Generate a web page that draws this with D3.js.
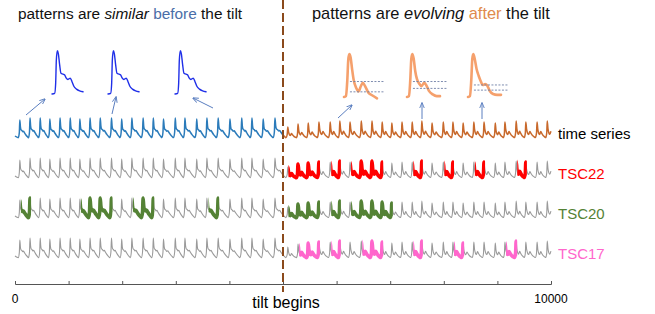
<!DOCTYPE html>
<html>
<head>
<meta charset="utf-8">
<script src="https://cdn.jsdelivr.net/npm/d3@7"></script>
<style>
  body { margin: 0; background: #fff; }
  text { font-family: "Liberation Sans", Arial, sans-serif; }
</style>
</head>
<body>
<div id="chart"></div>
<script>
const FRAME_WIDTH = 655;
const FRAME_HEIGHT = 314;

// ---- data ----
const TILT = 5000;
const X_DOMAIN = [0, 10000];

// peak times of each cycle
const PEAKS_BEFORE = [90, 280, 470, 650, 840, 1030, 1210, 1400, 1590, 1800, 1990, 2180, 2390,
                      2580, 2770, 2990, 3170, 3390, 3580, 3790, 4010, 4230, 4420, 4630, 4850];
const PEAKS_AFTER = [5090, 5280, 5470, 5670, 5880, 6060, 6250, 6460, 6660, 6850, 7030, 7220, 7410,
                     7590, 7780, 7990, 8170, 8360, 8560, 8750, 8960, 9140, 9350, 9530, 9740, 9930];
// peak heights
const AMP_BEFORE = [0.9, 1, 1, 0.95, 1, 1, 0.95, 1, 1, 1, 0.95, 1, 1,
                    1, 0.95, 1, 1, 0.95, 1, 1, 0.95, 1, 1, 0.95, 1];
const AMP_AFTER = [0.55, 0.7, 0.75, 0.8, 0.8, 0.85, 0.8, 0.85, 0.85, 0.8, 0.75, 0.8, 0.8,
                   0.85, 0.75, 0.8, 0.8, 0.75, 0.8, 0.8, 0.75, 0.8, 0.85, 0.8, 0.8, 0.85];
const START_VALUE = 0.1;

// one cycle: [phase after peak (fraction of period), value]
const SHAPE_BEFORE = [[-0.15, 0.02], [-0.05, 0.3], [0, 1], [0.06, 0.6], [0.12, 0.45], [0.2, 0.42],
                      [0.28, 0.35], [0.36, 0.38], [0.45, 0.3], [0.6, 0.17], [0.75, 0.07], [0.84, 0.02]];
const SHAPE_AFTER = [[-0.15, 0.03], [-0.05, 0.3], [0, 1], [0.07, 0.55], [0.16, 0.3], [0.25, 0.22],
                     [0.36, 0.4], [0.45, 0.3], [0.6, 0.15], [0.75, 0.07], [0.84, 0.03]];

// rows and highlighted motifs [start, end]
const ROW_LABELS = ["time series", "TSC22", "TSC20", "TSC17"];
const ROW_COLORS = ["#000000", "#ff0000", "#548235", "#ff66cc"];
const TSC22 = [[5100, 5690], [5900, 6080], [6270, 6870], [7430, 7610], [8010, 8190], [8580, 8770], [9370, 9550]];
const TSC20 = [[110, 300], [1230, 1820], [2200, 2600], [3610, 3810],
               [5100, 5690], [5900, 6080], [6270, 7050]];
const TSC17 = [[5300, 5690], [5900, 6080], [6480, 6870], [7430, 7610], [8190, 8380], [9160, 9370]];
const MOTIFS = [null, TSC22, TSC20, TSC17];

// inset waveforms [u, v]
const INSET_BEFORE = [[0, 0], [0.086, 0.015], [0.118, 0.24], [0.14, 0.77], [0.172, 0.985], [0.204, 0.92],
                      [0.247, 0.66], [0.29, 0.47], [0.355, 0.45], [0.41, 0.43], [0.46, 0.36], [0.516, 0.33],
                      [0.59, 0.36], [0.645, 0.28], [0.71, 0.17], [0.79, 0.11], [0.89, 0.07], [1, 0.05]];
const INSET_AFTER_1 = [[0, 0], [0.06, 0.02], [0.1, 0.39], [0.13, 0.87], [0.16, 1], [0.2, 0.92], [0.245, 0.65],
                       [0.29, 0.41], [0.37, 0.21], [0.44, 0.13], [0.51, 0.25], [0.57, 0.33], [0.64, 0.25],
                       [0.74, 0.1], [0.85, 0.04], [1, -0.03]];
const INSET_AFTER_2 = [[0, 0], [0.06, 0.02], [0.1, 0.4], [0.13, 0.88], [0.16, 1], [0.2, 0.9], [0.25, 0.6],
                       [0.3, 0.42], [0.38, 0.3], [0.44, 0.25], [0.52, 0.33], [0.58, 0.28], [0.66, 0.15],
                       [0.78, 0.06], [0.9, 0.02], [1, 0.02]];
const INSET_AFTER_3 = [[0, 0], [0.06, 0.02], [0.1, 0.4], [0.13, 0.88], [0.16, 1], [0.2, 0.9], [0.26, 0.65],
                       [0.32, 0.5], [0.38, 0.38], [0.45, 0.28], [0.52, 0.3], [0.58, 0.27], [0.66, 0.14],
                       [0.76, 0.07], [0.88, 0.05], [1, 0.05]];
// dashed levels on the evolving insets
const INSET_LEVELS = [[0.36, 0.12], [0.36, 0.2], [0.28, 0.16]];

const svg = d3.select("#chart")
  .append("svg")
    .attr("width", FRAME_WIDTH)
    .attr("height", FRAME_HEIGHT);

const X_SCALE = d3.scaleLinear().domain(X_DOMAIN).range([15, 551]);

// build the time series from the cycles
function build_series() {
  const peaks = PEAKS_BEFORE.concat(PEAKS_AFTER);
  const amps = AMP_BEFORE.concat(AMP_AFTER);
  let pts = [[0, START_VALUE]];
  peaks.forEach((p, i) => {
    const next = i < peaks.length - 1 ? peaks[i + 1] - p : p - peaks[i - 1];
    const prev = i > 0 ? p - peaks[i - 1] : next;
    const shape = p < TILT ? SHAPE_BEFORE : SHAPE_AFTER;
    shape.forEach(([ph, v]) => {
      const t = p + ph * (ph < 0 ? prev : next);
      if (t > 0 && t <= X_DOMAIN[1]) pts.push([t, v * amps[i]]);
    });
  });
  pts.sort((a, b) => a[0] - b[0]);
  return pts;
}
const SERIES = build_series();

// clip paths
const defs = svg.append("defs");
function add_clip(id, ranges) {
  const cp = defs.append("clipPath").attr("id", id);
  ranges.forEach(r => {
    cp.append("rect")
      .attr("x", X_SCALE(r[0]))
      .attr("y", 0)
      .attr("width", X_SCALE(r[1]) - X_SCALE(r[0]))
      .attr("height", FRAME_HEIGHT);
  });
}
add_clip("clip_before", [[X_DOMAIN[0] - 100, TILT]]);
add_clip("clip_after", [[TILT, X_DOMAIN[1] + 100]]);
MOTIFS.forEach((m, i) => { if (m) add_clip("clip_motif" + i, m); });

const ROW_BASE = [138, 178, 218, 258];
const ROW_AMP = 20;

ROW_LABELS.forEach((label, i) => {
  const yScale = d3.scaleLinear().domain([0, 1]).range([ROW_BASE[i], ROW_BASE[i] - ROW_AMP]);
  const line = d3.line()
    .x(d => X_SCALE(d[0]))
    .y(d => yScale(d[1]))
    .curve(d3.curveMonotoneX);
  const g = svg.append("g");

  if (i === 0) {
    g.append("path").attr("d", line(SERIES))
      .attr("fill", "none").attr("stroke", "#2b7bba").attr("stroke-width", 1.5)
      .attr("clip-path", "url(#clip_before)");
    g.append("path").attr("d", line(SERIES))
      .attr("fill", "none").attr("stroke", "#c8692c").attr("stroke-width", 1.5)
      .attr("clip-path", "url(#clip_after)");
  } else {
    g.append("path").attr("d", line(SERIES))
      .attr("fill", "none").attr("stroke", "#9a9a9a").attr("stroke-width", 1.1);
    g.append("path").attr("d", line(SERIES))
      .attr("fill", "none").attr("stroke", ROW_COLORS[i]).attr("stroke-width", 3.6)
      .attr("stroke-linejoin", "round")
      .attr("clip-path", "url(#clip_motif" + i + ")");
  }

  svg.append("text")
    .attr("x", 558)
    .attr("y", ROW_BASE[i] + 1)
    .attr("font-size", 15)
    .attr("fill", ROW_COLORS[i])
    .text(label);
});

// insets
function draw_inset(shape, x0, base, w, h, color, width) {
  const xs = d3.scaleLinear().domain([0, 1]).range([x0, x0 + w]);
  const ys = d3.scaleLinear().domain([0, 1]).range([base, base - h]);
  svg.append("path")
    .attr("d", d3.line().x(d => xs(d[0])).y(d => ys(d[1])).curve(d3.curveMonotoneX)(shape))
    .attr("fill", "none").attr("stroke", color).attr("stroke-width", width)
    .attr("stroke-linejoin", "round").attr("stroke-linecap", "round");
  return { xs, ys };
}
[52, 108, 175].forEach(x0 => draw_inset(INSET_BEFORE, x0, 94, 31, 44, "#1f2fe8", 1.4));

[[INSET_AFTER_1, 344], [INSET_AFTER_2, 407], [INSET_AFTER_3, 468]].forEach(([shape, x0], k) => {
  const { xs, ys } = draw_inset(shape, x0, 97, 33, 43, "#f5a06c", 2.6);
  INSET_LEVELS[k].forEach(v => {
    svg.append("line")
      .attr("x1", xs(0.18)).attr("x2", xs(1.2))
      .attr("y1", ys(v)).attr("y2", ys(v))
      .attr("stroke", "#6f7fa6").attr("stroke-width", 0.9)
      .attr("stroke-dasharray", "2,1.5");
  });
});

// arrows
defs.append("marker")
  .attr("id", "arrow")
  .attr("viewBox", "0 0 10 10")
  .attr("refX", 9).attr("refY", 5)
  .attr("markerWidth", 6).attr("markerHeight", 6)
  .attr("orient", "auto-start-reverse")
  .append("path").attr("d", "M0,1 L10,5 L0,9").attr("fill", "none")
  .attr("stroke", "#5a7ec0").attr("stroke-width", 1.5);

const ARROWS = [[26, 115, 45, 99], [112, 114, 116, 97], [213, 108, 193, 98],
                [338, 118, 352, 105], [422, 119, 422, 103], [482, 119, 482, 103]];
ARROWS.forEach(a => {
  svg.append("line")
    .attr("x1", a[0]).attr("y1", a[1]).attr("x2", a[2]).attr("y2", a[3])
    .attr("stroke", "#5a7ec0").attr("stroke-width", 1)
    .attr("marker-end", "url(#arrow)");
});

// titles
const t1 = svg.append("text").attr("x", 18).attr("y", 19).attr("font-size", 15.4).attr("fill", "#111");
t1.append("tspan").text("patterns are ");
t1.append("tspan").attr("font-style", "italic").text("similar");
t1.append("tspan").attr("fill", "#4a6ea8").text(" before");
t1.append("tspan").text(" the tilt");

const t2 = svg.append("text").attr("x", 312).attr("y", 19).attr("font-size", 16.4).attr("fill", "#111");
t2.append("tspan").text("patterns are ");
t2.append("tspan").attr("font-style", "italic").text("evolving");
t2.append("tspan").attr("fill", "#e08a4c").text(" after");
t2.append("tspan").text(" the tilt");

// x axis
const axis = svg.append("g")
  .attr("transform", "translate(0,284)")
  .call(d3.axisTop(X_SCALE).ticks(10).tickSize(3).tickSizeOuter(3).tickFormat(""));
axis.selectAll("path, line").attr("stroke", "#555");

svg.append("text").attr("x", X_SCALE(0)).attr("y", 303).attr("font-size", 12)
  .attr("text-anchor", "middle").text("0");
svg.append("text").attr("x", X_SCALE(10000)).attr("y", 303).attr("font-size", 12)
  .attr("text-anchor", "middle").text("10000");

// tilt line
svg.append("line")
  .attr("x1", X_SCALE(TILT)).attr("x2", X_SCALE(TILT))
  .attr("y1", 0).attr("y2", 292)
  .attr("stroke", "#8b4a1c").attr("stroke-width", 2)
  .attr("stroke-dasharray", "9,4");

svg.append("text").attr("x", X_SCALE(TILT) + 3).attr("y", 308).attr("font-size", 16)
  .attr("text-anchor", "middle").text("tilt begins");
</script>
</body>
</html>
